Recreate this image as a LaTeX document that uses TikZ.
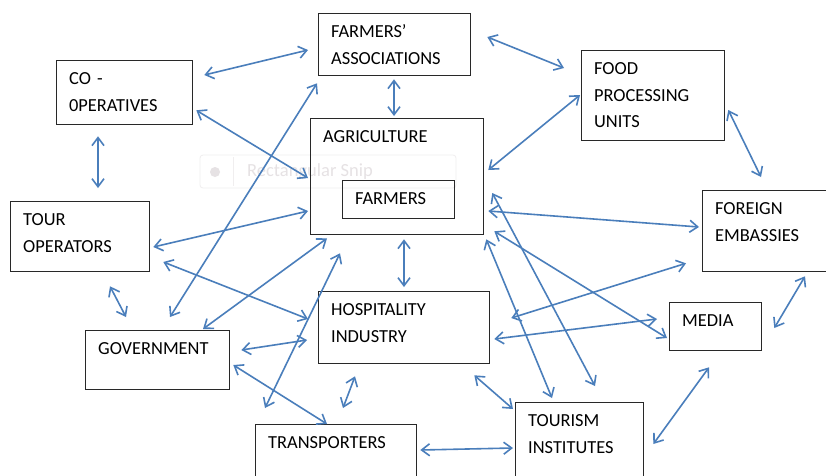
\documentclass[tikz,border=0pt]{standalone}
\usepackage{fontspec}
\setmainfont{Carlito}
\usetikzlibrary{arrows.meta}
\definecolor{linkblue}{RGB}{74,126,187}
\definecolor{boxline}{RGB}{40,40,40}
\definecolor{snipgray}{RGB}{230,226,228}
\tikzset{
 blok/.style={draw=boxline, line width=1.3pt, anchor=north west, align=left,
  inner xsep=12.5pt, inner ysep=0pt, text height=24pt,
  font=\fontsize{18.4}{26.5}\selectfont},
 link/.style={draw=linkblue, line width=1.6pt,
  {Straight Barb[length=8pt,width=12pt]}-{Straight Barb[length=8pt,width=12pt]}}
}
\begin{document}
\begin{tikzpicture}[x=1pt,y=-1pt]
\clip (0,0) rectangle (826,475);
\fill[white] (0,0) rectangle (826,475);

% faint snip toolbar behind everything
\draw[draw=snipgray!60, rounded corners=3pt, line width=0.8pt] (200,155) rectangle (456,188);
\draw[draw=snipgray!60, line width=0.8pt] (233,157) -- (233,186);
\fill[snipgray] (215,172) circle (5);
\node[anchor=west, text=snipgray, inner sep=0pt, font=\fontsize{18.5}{20}\selectfont] (snip) at (247,172) {Rectangular Snip};

% boxes
\node[blok, text width=127pt, text depth=38pt] (assoc) at (318,13) {FARMERS'\\ASSOCIATIONS};
\node[blok, text width=111pt, text depth=40pt] (coop) at (56,60) {CO -\\0PERATIVES};
\node[blok, text width=118pt, text depth=66pt] (food) at (581,50) {FOOD\\PROCESSING\\UNITS};
\node[blok, text width=148pt, text depth=92pt] (agri) at (310,118) {AGRICULTURE};
\node[blok, text width=87pt, text depth=14pt] (farmers) at (342,180) {FARMERS};
\node[blok, text width=114pt, text depth=46pt] (tour) at (10,201) {TOUR\\OPERATORS};
\node[blok, text width=99pt, text depth=57pt] (embassy) at (702,190) {FOREIGN\\EMBASSIES};
\node[blok, text width=146pt, text depth=48pt] (hosp) at (318,291) {HOSPITALITY\\INDUSTRY};
\node[blok, text width=67pt, text depth=24pt] (media) at (669,302) {MEDIA};
\node[blok, text width=119pt, text depth=35pt] (gov) at (85,330) {GOVERNMENT};
\node[blok, text width=136pt, text depth=40pt] (trans) at (255,424) {TRANSPORTERS};
\node[blok, text width=103pt, text depth=56pt] (inst) at (515,402) {TOURISM\\INSTITUTES};

% links
\draw[link] ([shift={(11,15)}]coop.north east) -- ([shift={(-10,37)}]assoc.north west);
\draw[link] ([shift={(16,24)}]assoc.north east) -- ([shift={(-17,18)}]food.north west);
\draw[link] ([shift={(76,3)}]assoc.south west) -- ([shift={(84,-2)}]agri.north west);
\draw[link] ([shift={(3,-15)}]coop.south east) -- ([shift={(-2,60)}]agri.north west);
\draw[link] ([shift={(42,11)}]coop.south west) -- ([shift={(88,-13)}]tour.north west);
\draw[link] ([shift={(-1,45)}]food.north west) -- ([shift={(4,52)}]agri.north east);
\draw[link] ([shift={(3,60)}]food.north east) -- ([shift={(59,-13)}]embassy.north west);
\draw[link] ([shift={(4,93)}]agri.north east) -- ([shift={(-3,37)}]embassy.north west);
\draw[link] ([shift={(3,46)}]tour.north east) -- ([shift={(-2,93)}]agri.north west);
\draw[link] ([shift={(85,-13)}]gov.north west) -- ([shift={(-1,7)}]assoc.south west);
\draw[link] ([shift={(13,61)}]tour.north east) -- ([shift={(-10,28)}]hosp.north west);
\draw[link] ([shift={(100,14)}]tour.south west) -- ([shift={(41,-13)}]gov.north west);
\draw[link] ([shift={(118,-1)}]gov.north west) -- ([shift={(17,3)}]agri.south west);
\draw[link] ([shift={(11,20)}]gov.north east) -- ([shift={(-11,49)}]hosp.north west);
\draw[link] ([shift={(3,35)}]gov.north east) -- ([shift={(72,0)}]trans.north west);
\draw[link] ([shift={(94,4)}]agri.south west) -- ([shift={(86,-4)}]hosp.north west);
\draw[link] ([shift={(10,-16)}]trans.north west) -- ([shift={(30,18)}]agri.south west);
\draw[link] ([shift={(37,12)}]hosp.south west) -- ([shift={(88,-16)}]trans.north west);
\draw[link] ([shift={(3,26)}]trans.north east) -- ([shift={(-2,46)}]inst.north west);
\draw[link] ([shift={(-16,11)}]hosp.south east) -- ([shift={(-2,7)}]inst.north west);
\draw[link] ([shift={(2,4)}]agri.south east) -- ([shift={(37,-4)}]inst.north west);
\draw[link] ([shift={(8,75)}]agri.north east) -- ([shift={(80,-16)}]inst.north west);
\draw[link] ([shift={(10,-4)}]agri.south east) -- ([shift={(-2,36)}]media.north west);
\draw[link] ([shift={(21,27)}]hosp.north east) -- ([shift={(-16,-9)}]embassy.south west);
\draw[link] ([shift={(4,48)}]hosp.north east) -- ([shift={(-12,17)}]media.north west);
\draw[link] ([shift={(12,26)}]media.north east) -- ([shift={(103,4)}]embassy.south west);
\draw[link] ([shift={(9,42)}]inst.north east) -- ([shift={(40,16)}]media.south west);
\end{tikzpicture}
\end{document}
